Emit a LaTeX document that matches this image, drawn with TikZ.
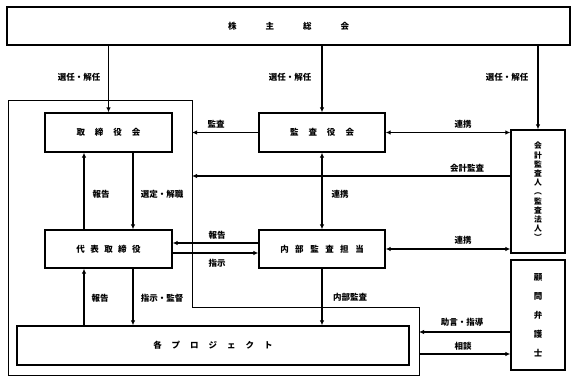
\documentclass[tikz,border=0pt]{standalone}
\usepackage{fontspec}
\newfontfamily\jpfont{Noto Sans CJK JP}
\usetikzlibrary{arrows.meta, calc, positioning}
\tikzset{
  unit/.style  = {draw, line width=1.3pt, inner sep=0pt, font=\jpfont\bfseries\fontsize{8.5}{10}\selectfont},
  vunit/.style = {unit, align=center},
  flow/.style  = {-{Latex[length=5pt,width=4.5pt]}, line width=1.1pt},
  both/.style  = {{Latex[length=5pt,width=4.5pt]}-{Latex[length=5pt,width=4.5pt]}, line width=1.1pt},
  wall/.style  = {line width=0.8pt},
  lbl/.style   = {font=\jpfont\bfseries\fontsize{8.5}{10}\selectfont, inner sep=0pt},
}
\newcommand{\spread}[2]{%
  \foreach[count=\k] \ch in {#2}{\ifnum\k>1 \hspace{#1}\fi\ch}%
}

\begin{document}
\begin{tikzpicture}[x=1pt, y=-1pt]
  \useasboundingbox (0,0) rectangle (575,382);
  % company boundary
  \coordinate (wallN) at (192,100);
  \coordinate (wallE) at (419,307);
  \draw[wall] (8,100) -- (wallN) -- (192,307) -- (wallE) -- (419,375) -- (8,375) -- cycle;

  % units
  \node[unit, minimum width=563pt, minimum height=38pt] (gm) at (288.5,26) {\spread{29pt}{株,主,総,会}};
  \node[unit, minimum width=127pt, minimum height=39pt] (tor) at (108.5,132.5) {\spread{10pt}{取,締,役,会}};
  \node[unit, minimum width=126pt, minimum height=39pt] (kansa) at (322,132.5) {\spread{10pt}{監,査,役,会}};
  \node[unit, minimum width=127pt, minimum height=38pt] (dai) at (108.5,249) {\spread{5.5pt}{代,表,取,締,役}};
  \node[unit, minimum width=126pt, minimum height=38pt] (naibu) at (322,249) {\spread{6.5pt}{内,部,監,査,担,当}};
  \node[unit, minimum width=392pt, minimum height=39pt] (proj) at (213,345.5) {\spread{10pt}{各,プ,ロ,ジ,ェ,ク,ト}};
  \node[vunit, minimum width=54pt, minimum height=123pt, font=\jpfont\bfseries\fontsize{7.8}{9.2}\selectfont] (kaikei) at (538,191.5)
    {会\\計\\監\\査\\人\\︵\\監\\査\\法\\人\\︶};
  \node[vunit, minimum width=54pt, minimum height=110pt, font=\jpfont\bfseries\fontsize{8.5}{19}\selectfont] (komon) at (538,315)
    {顧\\問\\弁\\護\\士};

  % appointment
  \draw[flow] (gm.south -| tor.north) -- (tor.north);
  \draw[flow] (gm.south -| kansa.north) -- (kansa.north);
  \draw[flow] (gm.south -| kaikei.north) -- (kaikei.north);
  \node[lbl] at (79,77) {選任・解任};
  \node[lbl] at (290,77) {選任・解任};
  \node[lbl] at (507,77) {選任・解任};

  % audit lines
  \coordinate (audit) at ($(kaikei.west)+(0,-15.5)$);
  \draw[flow] (kansa.west) -- (kansa.west -| wallN);
  \draw[flow] (audit) -- (audit -| wallN);
  \draw[both] (kansa.east) -- (kansa.east -| kaikei.west);
  \draw[both] (naibu.east) -- (naibu.east -| kaikei.west);
  \draw[both] (kansa.south) -- (naibu.north);
  \node[lbl] at (216,124) {監査};
  \node[lbl] at (463,124) {連携};
  \node[lbl] at (467,168) {会計監査};
  \node[lbl] at (340,194) {連携};
  \node[lbl] at (463,240) {連携};

  % board and representative
  \coordinate (selR) at ([xshift=24.5pt]tor.south);
  \coordinate (repL) at ([xshift=-24.5pt]dai.north);
  \draw[flow] (selR) -- (selR |- dai.north);
  \draw[flow] (repL) -- (repL |- tor.south);
  \node[lbl] at (101,194) {報告};
  \node[lbl] at (162,194) {選定・解職};

  \draw[flow] ([yshift=6pt]naibu.west) -- ([yshift=6pt]dai.east);
  \draw[flow] ([yshift=-4pt]dai.east) -- ([yshift=-4pt]naibu.west);
  \node[lbl] at (217,235) {報告};
  \node[lbl] at (217,263) {指示};

  % projects
  \coordinate (ordR) at ([xshift=24.5pt]dai.south);
  \coordinate (repP) at ([xshift=-24.5pt]dai.south);
  \draw[flow] (ordR) -- (ordR |- proj.north);
  \draw[flow] (repP |- proj.north) -- (repP);
  \draw[flow] (naibu.south) -- (naibu.south |- proj.north);
  \node[lbl] at (100,298) {報告};
  \node[lbl] at (162,298) {指示・監督};
  \node[lbl] at (350,297) {内部監査};

  % counsel
  \coordinate (advice) at ($(komon.west)+(0,17)$);
  \coordinate (consult) at ($(komon.west)+(0,39)$);
  \draw[flow] (advice) -- (advice -| wallE);
  \draw[flow] (consult -| wallE) -- (consult);
  \node[lbl] at (462,322) {助言・指導};
  \node[lbl] at (463,346) {相談};
\end{tikzpicture}
\end{document}
